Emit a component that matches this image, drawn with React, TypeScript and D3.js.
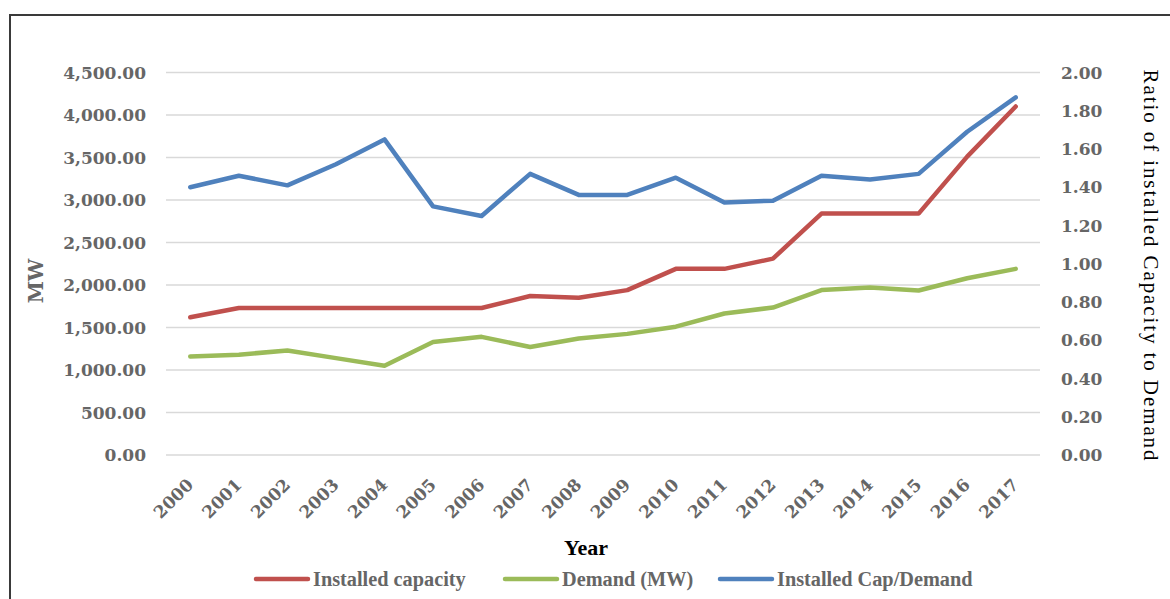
import React from "react";
import * as d3 from "d3";

const years = ["2000","2001","2002","2003","2004","2005","2006","2007","2008","2009","2010","2011","2012","2013","2014","2015","2016","2017"];
const installedCapacity = [1620,1730,1730,1730,1730,1730,1730,1870,1850,1940,2190,2190,2310,2840,2840,2840,3510,4100];
const demand = [1160,1180,1230,1140,1050,1330,1390,1270,1370,1425,1510,1665,1735,1940,1970,1935,2080,2190];
const capDemandRatio = [1.40,1.46,1.41,1.52,1.65,1.30,1.25,1.47,1.36,1.36,1.45,1.32,1.33,1.46,1.44,1.47,1.69,1.87];
const leftTicks = [0,500,1000,1500,2000,2500,3000,3500,4000,4500];
const rightTicks = [0,0.2,0.4,0.6,0.8,1.0,1.2,1.4,1.6,1.8,2.0];
const legendItems = [
  { label: "Installed capacity", color: "#C0504D" },
  { label: "Demand (MW)", color: "#9BBB59" },
  { label: "Installed Cap/Demand", color: "#4F81BD" },
];

const W = 1170, H = 599;
const plotLeft = 166, plotRight = 1040, plotTop = 72.5, plotBottom = 455;
const grey = "#666666";
const tickFont = "'DejaVu Serif', serif";
const textFont = "'Liberation Serif', 'Times New Roman', serif";

export default function App() {
  const x = d3.scalePoint<string>().domain(years).range([plotLeft, plotRight]).padding(0.5);
  const yL = d3.scaleLinear().domain([0, 4500]).range([plotBottom, plotTop]);
  const yR = d3.scaleLinear().domain([0, 2]).range([plotBottom, plotTop]);
  const fL = d3.format(",.2f");
  const fR = d3.format(".2f");

  const lineL = d3.line<number>().x((_, i) => x(years[i]) as number).y((d) => yL(d));
  const lineR = d3.line<number>().x((_, i) => x(years[i]) as number).y((d) => yR(d));

  const legendPos = [256, 505, 720];

  return (
    <svg width={W} height={H} style={{ position: "absolute", left: 0, top: 0, background: "#fff" }}>
      <rect x={0} y={0} width={W} height={H} fill="#fff" />
      <rect x={10} y={15} width={W + 20} height={H + 20} fill="none" stroke="#3a3a3a" strokeWidth={2} />

      {leftTicks.map((t) => (
        <line key={"g" + t} x1={plotLeft} x2={plotRight} y1={yL(t)} y2={yL(t)} stroke="#d9d9d9" strokeWidth={1.5} />
      ))}

      {leftTicks.map((t) => (
        <text key={"l" + t} x={146} y={yL(t)} dy="0.36em" textAnchor="end" fontFamily={tickFont} fontWeight="bold" fontSize={17} fill={grey}>
          {fL(t)}
        </text>
      ))}
      {rightTicks.map((t) => (
        <text key={"r" + t} x={1061} y={yR(t)} dy="0.36em" textAnchor="start" fontFamily={tickFont} fontWeight="bold" fontSize={17} fill={grey}>
          {fR(t)}
        </text>
      ))}

      {years.map((yr) => (
        <text key={"x" + yr} transform={`translate(${(x(yr) as number) + 4},${486}) rotate(-45)`} textAnchor="end" fontFamily={tickFont} fontWeight="bold" fontSize={17} fill={grey}>
          {yr}
        </text>
      ))}

      <path d={lineL(installedCapacity) || ""} fill="none" stroke="#C0504D" strokeWidth={4.5} strokeLinejoin="round" strokeLinecap="round" />
      <path d={lineL(demand) || ""} fill="none" stroke="#9BBB59" strokeWidth={4.5} strokeLinejoin="round" strokeLinecap="round" />
      <path d={lineR(capDemandRatio) || ""} fill="none" stroke="#4F81BD" strokeWidth={4.5} strokeLinejoin="round" strokeLinecap="round" />

      <text transform="translate(43,281) rotate(-90)" textAnchor="middle" fontFamily={tickFont} fontWeight="bold" fontSize={20} fill={grey}>
        MW
      </text>
      <text transform="translate(1144,266) rotate(90)" textAnchor="middle" fontFamily={textFont} fontSize={21} letterSpacing={1.9} fill="#000">
        Ratio of installed Capacity to Demand
      </text>
      <text x={586} y={555} textAnchor="middle" fontFamily={textFont} fontWeight="bold" fontSize={22} fill="#000">
        Year
      </text>

      {legendItems.map((item, i) => (
        <g key={item.label}>
          <line x1={legendPos[i]} x2={legendPos[i] + 52} y1={579} y2={579} stroke={item.color} strokeWidth={4.5} strokeLinecap="round" />
          <text x={legendPos[i] + 57} y={586} fontFamily={textFont} fontWeight="bold" fontSize={20.3} fill={grey}>
            {item.label}
          </text>
        </g>
      ))}
    </svg>
  );
}
